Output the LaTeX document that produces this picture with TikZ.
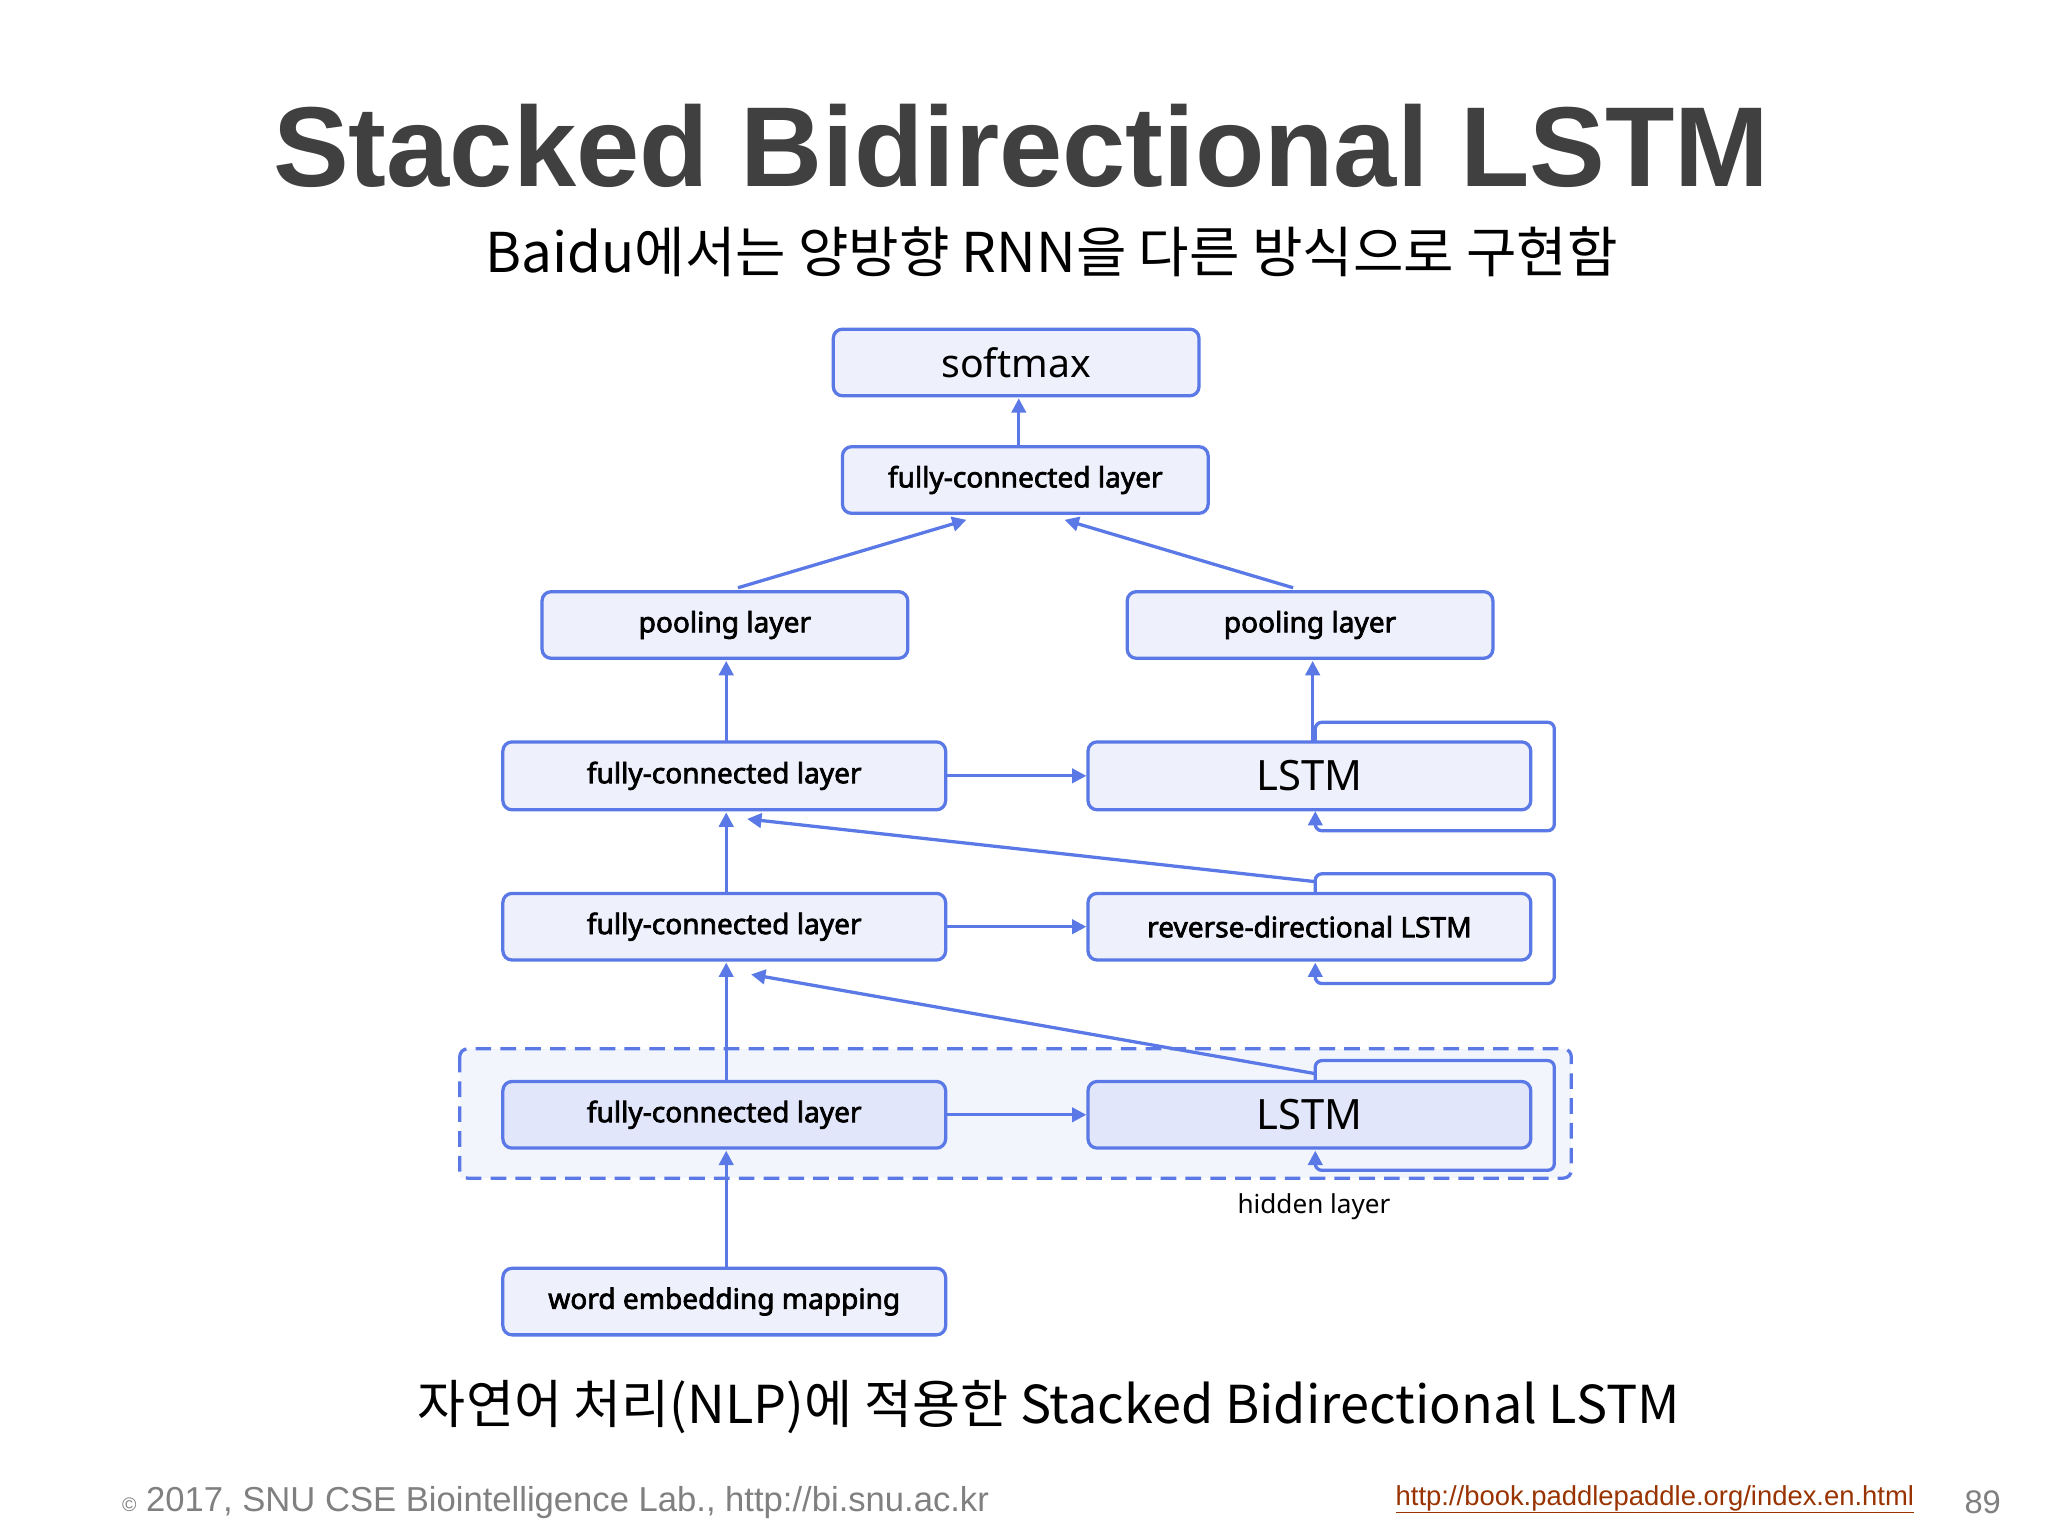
\documentclass[tikz,border=0pt]{standalone}
\usepackage{fontspec}
\setmainfont{Noto Sans}[AutoFakeBold=2.5]
\newfontfamily\kr{Noto Sans CJK KR}
\newfontfamily\arl{Liberation Sans}
\usetikzlibrary{arrows.meta}
\definecolor{bl}{HTML}{5A79E6}
\definecolor{bf}{HTML}{EEF0FC}
\definecolor{bf2}{HTML}{E2E6FA}
\definecolor{tg}{HTML}{404040}
\definecolor{lk}{HTML}{993300}
\begin{document}
\begin{tikzpicture}[x=1pt,y=-1pt,
 box/.style={draw=bl,fill=bf,line width=2.5pt,rounded corners=7pt,inner sep=0pt,font=\fontsize{21.5}{24}\selectfont\bfseries},
 big/.style={font=\fontsize{32}{34}\selectfont\mdseries},
 ar/.style={draw=bl,line width=2.5pt,-{Triangle[length=11pt,width=11pt]}},
 ln/.style={draw=bl,line width=2.5pt,rounded corners=5pt}]
\useasboundingbox[fill=white] (0,0) rectangle (1568,1176);
\node[text=tg,font=\arl\fontsize{87}{92}\selectfont\bfseries] (title) at (782,112) {Stacked Bidirectional LSTM};
\node[font=\kr\fontsize{42}{46}\selectfont] (sub) at (805,193) {Baidu에서는 양방향 RNN을 다른 방식으로 구현함};
\fill[bf!70] (352,803) rectangle (1203,902);
\draw[bl,line width=2.5pt,dash pattern=on 12pt off 7pt,rounded corners=6pt] (352,803) rectangle (1203,902);
\node[box,big,minimum width=280pt,minimum height=51pt,font=\fontsize{30}{32}\selectfont\mdseries] (sm) at (778,277.5) {softmax};
\node[box,minimum width=280pt,minimum height=51pt] (fct) at (785,367.5) {fully-connected layer};
\node[box,minimum width=280pt,minimum height=51pt] (pl) at (555,478.5) {pooling layer};
\node[box,minimum width=280pt,minimum height=51pt] (pr) at (1003,478.5) {pooling layer};
\node[box,minimum width=339pt,minimum height=52pt] (f1) at (554.5,594) {fully-connected layer};
\node[box,big,minimum width=339pt,minimum height=52pt] (l1) at (1002.5,594) {LSTM};
\node[box,minimum width=339pt,minimum height=51pt] (f2) at (554.5,709.5) {fully-connected layer};
\node[box,minimum width=339pt,minimum height=51pt] (l2) at (1002.5,709.5) {reverse-directional LSTM};
\node[box,fill=bf2,minimum width=339pt,minimum height=51pt] (f3) at (554.5,853.5) {fully-connected layer};
\node[box,big,fill=bf2,minimum width=339pt,minimum height=51pt] (l3) at (1002.5,853.5) {LSTM};
\node[box,minimum width=339pt,minimum height=51pt] (we) at (554.5,996.5) {word embedding mapping};
\node[font=\fontsize{20}{22}\selectfont] (hid) at (1006,924) {hidden layer};
\node[font=\kr\fontsize{40}{44}\selectfont] (cap) at (803,1077) {자연어 처리(NLP)에 적용한 Stacked Bidirectional LSTM};
\node[anchor=west,text=gray,font=\arl\fontsize{26.5}{28}\selectfont] (foot) at (90,1150) {{\fontsize{15}{16}\selectfont©}\ 2017, SNU CSE Biointelligence Lab., http://bi.snu.ac.kr};
\node[anchor=east,text=lk,font=\arl\fontsize{21}{24}\selectfont] (link) at (1469,1148) {\underline{http://book.paddlepaddle.org/index.en.html}};
\node[text=gray,font=\arl\fontsize{25}{28}\selectfont] (pg) at (1518,1150) {89};
% arrows
\draw[ar] (780,342) -- (780,305);
\draw[ar] (565,450) -- (740,398);
\draw[ar] (990,450) -- (815,398);
\draw[ar] (556,568) -- (556,506);
\draw[ar] (1005,568) -- (1005,506);
\draw[ar] (f1.east) -- (l1.west);
\draw[ar] (f2.east) -- (l2.west);
\draw[ar] (f3.east) -- (l3.west);
\draw[ar] (556,684) -- (556,622);
\draw[ar] (556,828) -- (556,737);
\draw[ar] (556,971) -- (556,881);
% loops
\draw[ln] (1007,568) -- (1007,553) -- (1190,553) -- (1190,636) -- (1007,636) -- (1007,630);
\draw[ar] (1007,632) -- (1007,621);
\draw[ln] (1007,684) -- (1007,669) -- (1190,669) -- (1190,753) -- (1007,753) -- (1007,747);
\draw[ar] (1007,749) -- (1007,737);
\draw[ln] (1007,828) -- (1007,812) -- (1190,812) -- (1190,896) -- (1007,896) -- (1007,890);
\draw[ar] (1007,892) -- (1007,881);
\draw[ar] (1007,675) -- (572,627);
\draw[ar] (1007,822) -- (575,746);
\end{tikzpicture}
\end{document}
